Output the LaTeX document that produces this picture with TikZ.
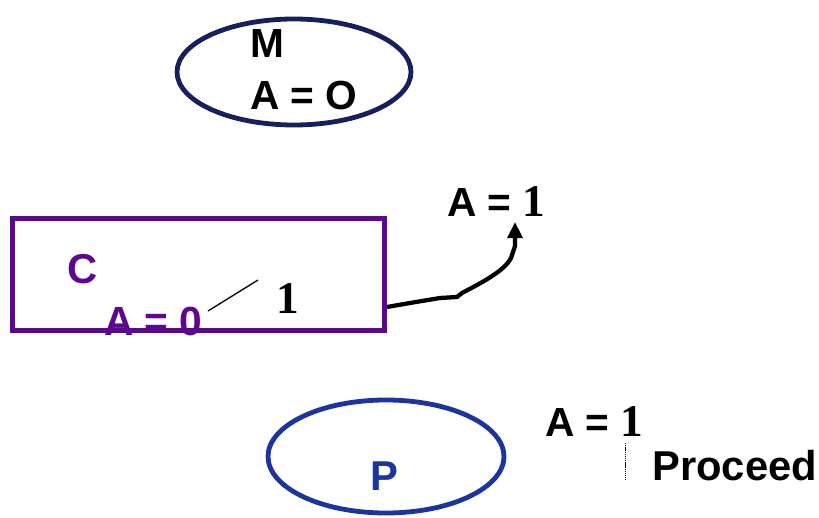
\documentclass[tikz,border=0pt]{standalone}
\usepackage{fontspec}
\setmainfont{Liberation Sans}
\newfontfamily\serifone{Liberation Serif}
\usetikzlibrary{arrows.meta,shapes.geometric,calc}
\definecolor{navyM}{RGB}{22,32,92}
\definecolor{purpC}{RGB}{92,6,146}
\definecolor{blueP}{RGB}{28,52,160}
\tikzset{
  lbl/.style={anchor=base west,inner sep=0pt,font=\bfseries\fontsize{30.5}{36}\selectfont},
  big/.style={anchor=base west,inner sep=0pt,font=\bfseries\fontsize{31.3}{37}\selectfont},
  oval/.style={ellipse,draw,line width=3.6pt,inner sep=0pt},
}
\newcommand{\one}{{\serifone\bfseries\fontsize{34}{40}\selectfont 1}}
\begin{document}
\begin{tikzpicture}[x=0.75pt,y=-0.75pt]
\useasboundingbox (0,0) rectangle (819,518);
% M ellipse
\node[oval,draw=navyM,minimum width=175.5pt,minimum height=79.5pt] (ellM) at (294,72) {};
\node[lbl] (txtM) at (250,57) {M};
\node[lbl] (txtMA) at (250,109) {A = O};
% C rectangle
\node[big,text=purpC] (txtC) at (67,283) {C};
\node[lbl,text=purpC] (txtCA) at (104,335) {A = 0};
\node[draw=purpC,line width=3.75pt,minimum width=279pt,minimum height=84pt,inner sep=0pt] (rectC) at (198.5,274.5) {};
\node[anchor=base west,inner sep=0pt] (one1) at (276,313) {\one};
\coordinate (s1) at (208,311);
\coordinate (s2) at (258,280);
\draw[line width=1pt] (s1) -- (s2);
% top A = 1
\node[lbl] (a1top) at (447,216) {A = \one};
\coordinate (start) at ($(rectC.south east)+(0,-26)$);
\coordinate (tip) at (515,222);
\draw[line width=3.2pt,-{Triangle[length=12pt,width=11pt]}]
  (start) -- (410,303) -- (440,298) -- (457,297) -- (462,293)
  .. controls (485,281) and (505,270) .. (511,258) -- (515,246) -- (tip);
% P ellipse
\node[oval,draw=blueP,minimum width=177pt,minimum height=84.75pt] (ellP) at (386,456.5) {};
\node[big,text=blueP] (txtP) at (370,490) {P};
% bottom A = 1 Proceed
\node[lbl] (a1bot) at (545,436) {A = \one};
\node[big] (proc) at (652,480) {Proceed};
\coordinate (d1) at (625,443);
\coordinate (d2) at (625,480);
\draw[line width=0.6pt,dash pattern=on 1pt off 0.6pt] (d1) -- (d2);
\end{tikzpicture}
\end{document}
